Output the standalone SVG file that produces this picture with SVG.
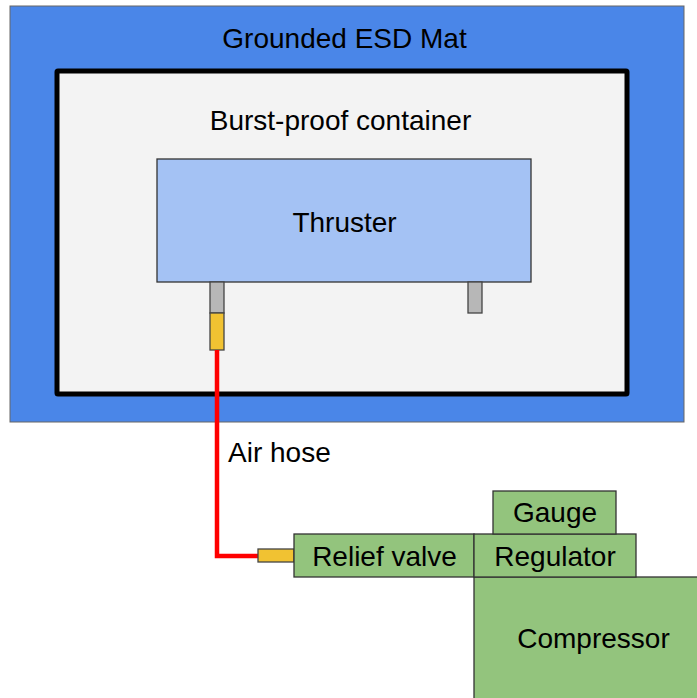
<svg xmlns="http://www.w3.org/2000/svg" width="697" height="698" viewBox="0 0 697 698">
<style>
text{font-family:"Liberation Sans",Arial,sans-serif;font-size:28px;fill:#000;}
.c{text-anchor:middle;}
.g{fill:#93c47d;stroke:#333;stroke-width:1.3;}
.gray{fill:#b7b7b7;stroke:#444;stroke-width:1.3;}
.y{fill:#f1c232;stroke:#444;stroke-width:1.3;}
</style>
<rect width="697" height="698" fill="#fff"/>
<g id="mat">
<rect x="10" y="6" width="674" height="416" fill="#4a86e8" stroke="#666" stroke-width="1"/>
<text class="c" x="344.5" y="48">Grounded ESD Mat</text>
</g>
<g id="container">
<rect x="57" y="71" width="570" height="323" fill="#f3f3f3" stroke="#000" stroke-width="5" rx="1"/>
<text class="c" x="340.5" y="130">Burst-proof container</text>
</g>
<g id="thruster">
<rect x="157" y="159" width="374" height="123" fill="#a4c2f4" stroke="#333" stroke-width="1.3"/>
<text class="c" x="344.5" y="232">Thruster</text>
</g>
<g id="port-left">
<rect x="210" y="282" width="14" height="31" class="gray"/>
<rect x="210" y="313" width="14" height="37" class="y"/>
</g>
<g id="port-right">
<rect x="468" y="282" width="14" height="31" class="gray"/>
</g>
<g id="connectors">
<polyline points="217,350 217,556 258,556" fill="none" stroke="#ff0000" stroke-width="4.5"/>
<text x="228" y="462">Air hose</text>
</g>
<g id="fitting">
<rect x="258" y="549" width="36" height="13" class="y"/>
</g>
<g id="compressor">
<rect x="474" y="577" width="240" height="140" class="g"/>
<text class="c" x="593.5" y="648">Compressor</text>
</g>
<g id="relief-valve">
<rect x="294" y="534" width="180" height="43" class="g"/>
<text class="c" x="384.5" y="566">Relief valve</text>
</g>
<g id="regulator">
<rect x="474" y="534" width="162" height="43" class="g"/>
<text class="c" x="555" y="566">Regulator</text>
</g>
<g id="gauge">
<rect x="493" y="491" width="123" height="43" class="g"/>
<text class="c" x="555" y="522">Gauge</text>
</g>
</svg>
